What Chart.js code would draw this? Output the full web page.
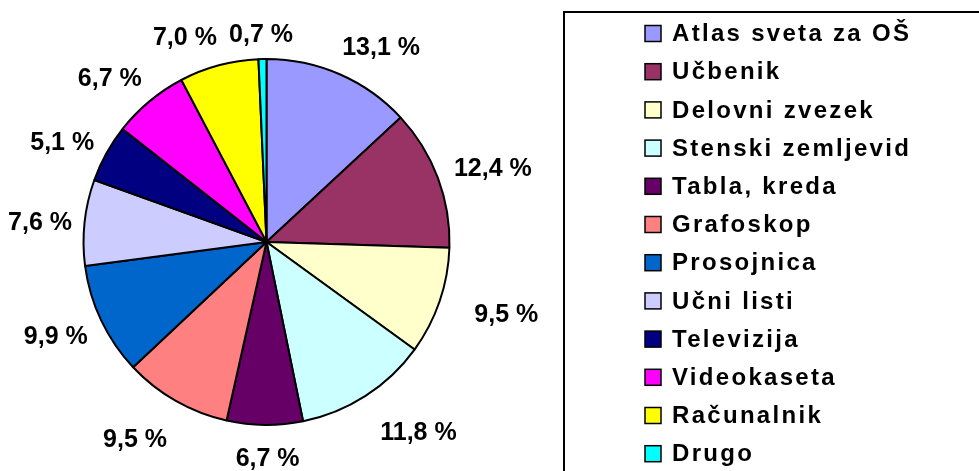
<!DOCTYPE html>
<html>
<head>
<meta charset="utf-8">
<script src="https://cdn.jsdelivr.net/npm/chart.js@4.4.1/dist/chart.umd.min.js"></script>
<style>
  html, body { margin: 0; padding: 0; background: #fff; }
  #wrap { width: 979px; height: 471px; position: relative; }
</style>
</head>
<body>
<div id="wrap"><canvas id="myChart" width="979" height="471"></canvas></div>
<script>
// podatki
var categories = [
    'Atlas sveta za OŠ', 'Učbenik', 'Delovni zvezek', 'Stenski zemljevid',
    'Tabla, kreda', 'Grafoskop', 'Prosojnica', 'Učni listi',
    'Televizija', 'Videokaseta', 'Računalnik', 'Drugo'
];
var shares = [13.1, 12.4, 9.5, 11.8, 6.7, 9.5, 9.9, 7.6, 5.1, 6.7, 7.0, 0.7];
var sliceColors = [
    '#9999FF', '#993366', '#FFFFCC', '#CCFFFF',
    '#660066', '#FF8080', '#0066CC', '#CCCCFF',
    '#000080', '#FF00FF', '#FFFF00', '#00FFFF'
];

// premiki nalepk (kot v Excelu, kjer so bile ročno premaknjene)
var labelNudge = [
    [28, -1], [4, -1], [21, 7], [32, 15], [3, 6], [-24, 16],
    [-3, 7], [5, 3], [-4, 1], [-15, -3], [-27, -1], [-1, 4]
];

// nalepke z odstotki zunaj kroga
var outsideLabels = {
    id: 'outsideLabels',
    afterDatasetsDraw: function(chart) {
        var ctx = chart.ctx;
        var meta = chart.getDatasetMeta(0);
        ctx.save();
        ctx.font = 'bold 25px "Liberation Sans", Arial, sans-serif';
        ctx.fillStyle = '#000';
        ctx.textAlign = 'center';
        ctx.textBaseline = 'middle';
        meta.data.forEach(function(arc, i) {
            var mid = (arc.startAngle + arc.endAngle) / 2;
            var txt = shares[i].toFixed(1).replace('.', ',') + ' %';
            var w = ctx.measureText(txt).width;
            var h = 20;
            var r = arc.outerRadius + 18;
            var x = arc.x + Math.cos(mid) * (r + w / 2 * Math.abs(Math.cos(mid)));
            var y = arc.y + Math.sin(mid) * (r + h / 2 * Math.abs(Math.sin(mid)));
            ctx.fillText(txt, x + labelNudge[i][0], y + labelNudge[i][1]);
        });
        ctx.restore();
    }
};

// legenda v okvirju desno
var boxLegend = {
    id: 'boxLegend',
    afterDraw: function(chart) {
        var ctx = chart.ctx;
        ctx.save();
        ctx.strokeStyle = '#000';
        ctx.lineWidth = 2;
        ctx.strokeRect(564, 12, 430, 480);
        ctx.font = 'bold 24px "Liberation Sans", Arial, sans-serif';
        ctx.letterSpacing = '2.3px';
        ctx.textBaseline = 'middle';
        categories.forEach(function(name, i) {
            var cy = 33.5 + i * 38.2;
            ctx.fillStyle = sliceColors[i];
            ctx.fillRect(645, cy - 8, 16, 16);
            ctx.lineWidth = 1.5;
            ctx.strokeRect(645, cy - 8, 16, 16);
            ctx.fillStyle = '#000';
            ctx.fillText(name, 672, cy + 1);
        });
        ctx.restore();
    }
};

var ctx = document.getElementById('myChart');

var myPieChart = new Chart(ctx, {
    type: 'pie',
    data: {
        labels: categories,
        datasets: [{
            data: shares,
            backgroundColor: sliceColors,
            borderColor: '#000',
            borderWidth: 2
        }]
    },
    options: {
        responsive: false,
        animation: false,
        layout: { padding: { left: 82, right: 528, top: 58, bottom: 45 } },
        plugins: {
            legend: { display: false },
            tooltip: { enabled: false }
        }
    },
    plugins: [outsideLabels, boxLegend]
});
</script>
</body>
</html>
